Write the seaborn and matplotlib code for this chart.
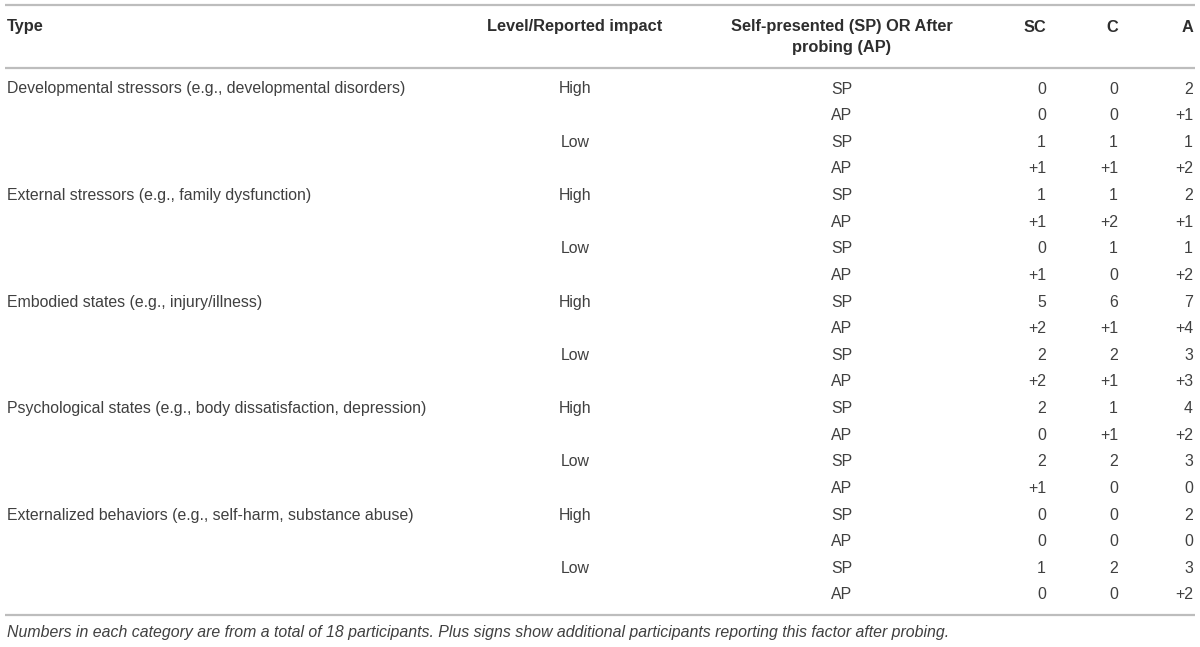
import pandas as pd
import numpy as np
import seaborn as sns
import matplotlib
matplotlib.use("Agg")
import matplotlib.pyplot as plt

# table content
types = ["Developmental stressors (e.g., developmental disorders)",
         "External stressors (e.g., family dysfunction)",
         "Embodied states (e.g., injury/illness)",
         "Psychological states (e.g., body dissatisfaction, depression)",
         "Externalized behaviors (e.g., self-harm, substance abuse)"]
levels = ["High", "Low"]
probe = ["SP", "AP"]
sc_vals = ["0", "0", "1", "+1", "1", "+1", "0", "+1", "5", "+2",
           "2", "+2", "2", "0", "2", "+1", "0", "0", "1", "0"]
c_vals = ["0", "0", "1", "+1", "1", "+2", "1", "0", "6", "+1",
          "2", "+1", "1", "+1", "2", "0", "0", "0", "2", "0"]
a_vals = ["2", "+1", "1", "+2", "2", "+1", "1", "+2", "7", "+4",
          "3", "+3", "4", "+2", "3", "0", "2", "0", "3", "+2"]
headers = ["Type", "Level/Reported impact", "Self-presented (SP) OR After\nprobing (AP)", "SC", "C", "A"]
note = ("Numbers in each category are from a total of 18 participants. "
        "Plus signs show additional participants reporting this factor after probing.")

rows = []
for t in types:
    for lv in levels:
        for p in probe:
            rows.append({"Type": t, "Level": lv, "Probe": p})
df = pd.DataFrame(rows)
df["SC"] = sc_vals
df["C"] = c_vals
df["A"] = a_vals

sns.set_theme(style="white")
plt.rcParams["font.family"] = ["Liberation Sans", "DejaVu Sans"]

txt = "#404040"
hdr = "#2e2e2e"
line = "#bdbdbd"
fs = 11.4
hfs = 11.8

fig, ax = plt.subplots(figsize=(12, 6.47), dpi=100)
fig.subplots_adjust(0, 0, 1, 1)
ax.set_xlim(0, 1200)
ax.set_ylim(647, 0)
ax.axis("off")

# rules
for y in [5, 68, 615]:
    ax.plot([5, 1195], [y, y], color=line, lw=1.6, solid_capstyle="butt")

# header
ax.text(7, 27, headers[0], ha="left", va="center", fontsize=hfs, fontweight="bold", color=hdr)
ax.text(575, 27, headers[1], ha="center", va="center", fontsize=hfs, fontweight="bold", color=hdr)
ax.text(842, 37, headers[2], ha="center", va="center", fontsize=hfs, fontweight="bold",
        color=hdr, linespacing=1.45)
col_x = {"SC": 1046, "C": 1118, "A": 1193}
for h in ["SC", "C", "A"]:
    ax.text(col_x[h], 27, h, ha="right", va="center", fontsize=hfs, fontweight="bold", color=hdr)

y0, dy = 89, 26.63
for i, r in df.iterrows():
    y = y0 + i * dy
    if i % 4 == 0:
        ax.text(7, y, r["Type"], ha="left", va="center", fontsize=fs, color=txt)
    if i % 2 == 0:
        ax.text(575, y, r["Level"], ha="center", va="center", fontsize=fs, color=txt)
    ax.text(842, y, r["Probe"], ha="center", va="center", fontsize=fs, color=txt)
    for h in ["SC", "C", "A"]:
        ax.text(col_x[h], y, r[h], ha="right", va="center", fontsize=fs, color=txt)

ax.text(7, 632, note, ha="left", va="center", fontsize=fs, style="italic", color=txt)

fig.savefig("out.png", dpi=100)
